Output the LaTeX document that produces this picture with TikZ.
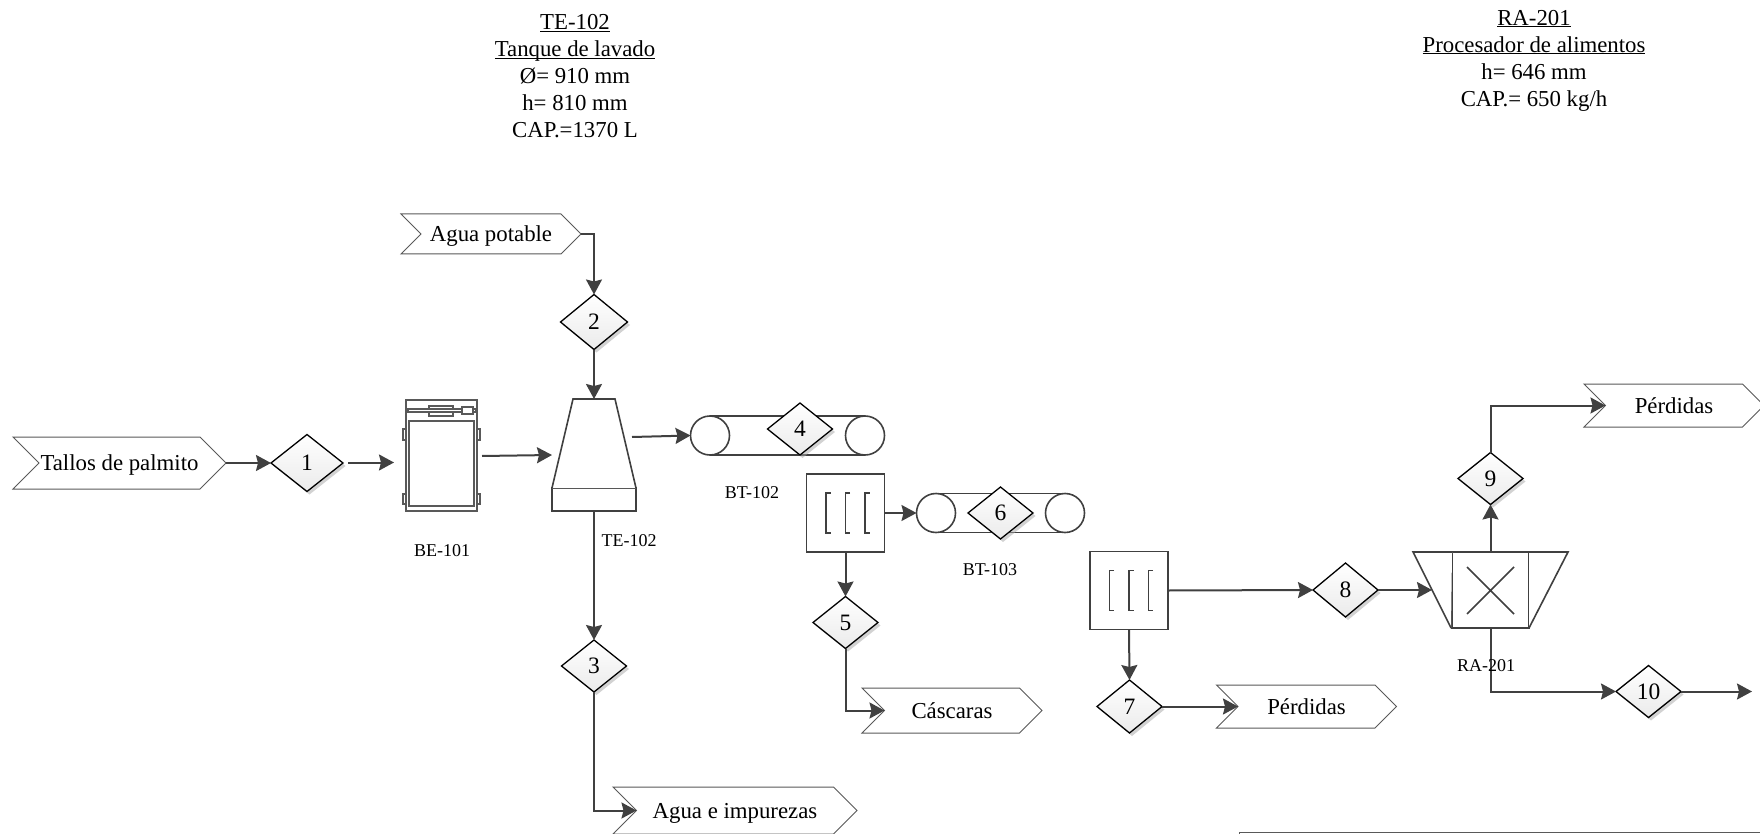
\documentclass[tikz,border=0pt]{standalone}
\usepackage{fontspec}
\setmainfont{Liberation Serif}
\usetikzlibrary{positioning,arrows.meta,shapes.geometric,shapes.symbols,shadows,calc}
\definecolor{linea}{HTML}{404040}
\definecolor{borde}{HTML}{595959}
\newcommand{\subr}[1]{\underline{\smash{#1}}}

\begin{document}
\begin{tikzpicture}[x=1pt,y=-1pt,font=\fontsize{22.8}{27}\selectfont,
      flecha/.style={draw=linea, line width=2pt, -{Stealth[length=15pt,width=16pt,inset=2pt]}},
      etiqueta/.style={signal, signal from=west, signal to=east, signal pointer angle=90,
                draw=borde, fill=white, line width=1pt, inner sep=0pt, outer sep=0pt,
                text height=15.5pt, text depth=0pt, minimum width=#1},
      corriente/.style={diamond, draw=black, line width=1.3pt, inner sep=0pt, outer sep=0pt,
                minimum width=65pt, minimum height=52pt, top color=white, bottom color=black!8,
                font=\fontsize{23.5}{26}\selectfont,
                drop shadow={shadow xshift=2.5pt,shadow yshift=-3pt,fill=black!35,opacity=0.5}},
      equipo/.style={draw=linea, line width=1.6pt, fill=white, inner sep=0pt, outer sep=0pt},
      fino/.style={draw=borde, line width=1.2pt, fill=white, inner sep=0pt, outer sep=0pt},
      rodillo/.style={equipo, circle, minimum size=39pt},
      codigo/.style={font=\fontsize{18}{20}\selectfont},
      ficha/.style={align=center}]
    \useasboundingbox (0,0) rectangle (1760,834);
    % fichas de equipos
    \node[ficha] (fichaTE) at (575,84) {\subr{TE-102}\\\subr{Tanque de lavado}\\Ø= 910 mm\\h= 810 mm\\CAP.=1370 L};
    \node[ficha] (fichaRA) at (1534,68) {\subr{RA-201}\\\subr{Procesador de alimentos}\\h= 646 mm\\CAP.= 650 kg/h};
    % elevador BE-101
    \node[fino, minimum width=71pt, minimum height=111pt] (elevador) at (441.5,455.5) {};
    \node[fino, minimum width=65pt, minimum height=85pt] (elevadorI) at (441.5,463.5) {};
    \draw[fino] (429,406) rectangle (453,416);
    \draw[fino] (408,409) rectangle (476,412);
    \draw[fino] (462,407) rectangle (473,414);
    \draw[fino] (403,429) rectangle (406,440);
    \draw[fino] (403,494) rectangle (406,504);
    \draw[fino] (477,429) rectangle (480,440);
    \draw[fino] (477,494) rectangle (480,504);
    % tanque TE-102
    \node[equipo, minimum width=84pt, minimum height=23pt] (baseTE) at (594,499.5) {};
    \coordinate (tanque) at (594,399);
    \draw[equipo] (baseTE.north west) -- (573,399) -- (615,399) -- (baseTE.north east);
    % bandas
    \node[rodillo] (rodA1) at (710,435.5) {};
    \node[rodillo] (rodA2) at (865,435.5) {};
    \draw[equipo] (rodA1.north) -- (rodA2.north) (rodA1.south) -- (rodA2.south);
    \node[rodillo] (rodB1) at (936,513) {};
    \node[rodillo] (rodB2) at (1065,513) {};
    \draw[equipo] (rodB1.north) -- (rodB2.north) (rodB1.south) -- (rodB2.south);
    % tamices
    \node[equipo, minimum size=78pt] (tamizA) at (845.5,513) {};
    \node[equipo, minimum size=78pt] (tamizB) at (1129,590.5) {};
    \foreach \dx in {-19.5,0,19.5} {
      \draw[equipo] ($(tamizA)+(\dx+4.5,-20)$) -- ++(-4.5,0) -- ++(0,40) -- ++(4.5,0);
      \draw[equipo] ($(tamizB)+(\dx+4.5,-20)$) -- ++(-4.5,0) -- ++(0,40) -- ++(4.5,0);
    }
    % procesador RA-201
    \node[equipo, minimum size=77pt, minimum height=76pt] (molino) at (1490.5,590) {};
    \draw[equipo] (molino.north west) -- (1413,552) -- (1451,628) (molino.north east) -- (1568,552) -- (1529,628);
    \draw[equipo] (1467,567) -- (1514,614) (1514,567) -- (1467,614);
    \coordinate (molinoE) at (1432,590);
    % corrientes de proceso
    \node[etiqueta=213pt, minimum height=52pt] (tallos) at (119.5,463) {Tallos de palmito};
    \node[etiqueta=180pt, minimum height=40pt] (agua) at (491,234) {Agua potable};
    \node[etiqueta=180pt, minimum height=45pt] (cascaras) at (952,710.5) {Cáscaras};
    \node[etiqueta=244pt, minimum height=47pt] (impurezas) at (735,810.5) {Agua e impurezas};
    \node[etiqueta=180pt, minimum height=43pt] (perdidasA) at (1306.5,706.5) {Pérdidas};
    \node[etiqueta=180pt, minimum height=43pt] (perdidasB) at (1674,405.5) {Pérdidas};
    \node[corriente, minimum width=72pt, minimum height=57pt] (c1) at (307,463) {1};
    \node[corriente, minimum width=67pt, minimum height=55pt] (c2) at (594,322) {2};
    \node[corriente] (c3) at (594,666) {3};
    \node[corriente] (c4) at (800,429) {4};
    \node[corriente] (c5) at (845.5,622.5) {5};
    \node[corriente] (c6) at (1000.5,513) {6};
    \node[corriente, minimum height=53pt] (c7) at (1129.5,706.5) {7};
    \node[corriente, minimum height=54pt] (c8) at (1345.5,590) {8};
    \node[corriente] (c9) at (1490.5,478.5) {9};
    \node[corriente] (c10) at (1648.5,691.5) {10};
    % codigos
    \node[codigo] (codBE) at (442,550.5) {BE-101};
    \node[codigo] (codTE) at (629,540.5) {TE-102};
    \node[codigo] (codBA) at (752,492.5) {BT-102};
    \node[codigo] (codBB) at (990,569.5) {BT-103};
    % conexiones
    \coordinate (salida1) at (348,462.5);
    \coordinate (entradaBE) at (394,462.5);
    \coordinate (salidaBE) at (482,456);
    \coordinate (entradaTE) at (552,455);
    \coordinate (salidaTE) at (632,437);
    \coordinate (salida10) at (1752,691.5);
    \draw[flecha] (tallos.east) -- (c1.west);
    \draw[flecha] (salida1) -- (entradaBE);
    \draw[flecha] (salidaBE) -- (entradaTE);
    \draw[flecha] (agua.east) -| (c2.north);
    \draw[flecha] (c2.south) -- (tanque);
    \draw[flecha] (baseTE.south) -- (c3.north);
    \draw[flecha] (c3.south) |- (impurezas.west);
    \draw[flecha] (salidaTE) -- (rodA1.west);
    \draw[flecha] (tamizA.east) -- (rodB1.west);
    \draw[flecha] (tamizA.south) -- (c5.north);
    \draw[flecha] (c5.south) |- (cascaras.west);
    \draw[flecha] (tamizB.east) -- (c8.west);
    \draw[flecha] (tamizB.south) -- (c7.north);
    \draw[flecha] (c7.east) -- (perdidasA.west);
    \draw[flecha] (c8.east) -- (molinoE);
    \draw[flecha] (molino.north) -- (c9.south);
    \draw[flecha] (c9.north) |- (perdidasB.west);
    \draw[flecha] (molino.south) |- (c10.west);
    \draw[flecha] (c10.east) -- (salida10);
    \node[codigo] (codRA) at (1486,665.5) {RA-201};
    % cuadro inferior
    \node[draw=borde, line width=1.2pt, minimum width=700pt, minimum height=60pt, anchor=north west, inner sep=0pt] (cuadro) at (1239,831.5) {};
\end{tikzpicture}
\end{document}
